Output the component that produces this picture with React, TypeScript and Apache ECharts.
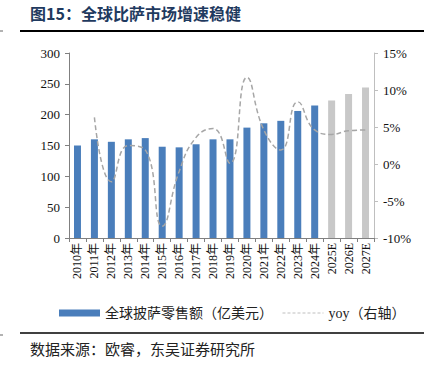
import React, { useEffect, useRef } from "react";
import * as echarts from "echarts";

const categories = ["2010年","2011年","2012年","2013年","2014年","2015年","2016年","2017年","2018年","2019年","2020年","2021年","2022年","2023年","2024年","2025E","2026E","2027E"];
const salesValues = [150,160,156,160,162,148,147,152,160,160,179,186,190,206,215,223,233.5,244];
const forecastFlags = [0,0,0,0,0,0,0,0,0,0,0,0,0,0,0,1,1,1];
const yoyValues: (number | null)[] = [null,6.3,-2.4,2.5,1.9,-8.4,-1.0,3.6,4.8,0.1,11.7,4.6,1.9,8.4,4.6,4.0,4.5,4.6];
const leftTicks = { min: 0, max: 300, interval: 50 };
const rightTicks = { min: -10, max: 15, interval: 5 };

const SERIF = "'Liberation Serif', 'Noto Sans CJK SC', serif";
const CJK = "'Noto Sans CJK SC', 'Liberation Serif', serif";

export default function App() {
  const ref = useRef<HTMLDivElement>(null);
  useEffect(() => {
    document.body.style.margin = "0";
    const chart = echarts.init(ref.current!, null, { renderer: "svg" });
    chart.setOption({
      animation: false,
      backgroundColor: "#ffffff",
      grid: { left: 69, right: 50, top: 53, bottom: 127 },
      legend: {
        left: 54,
        top: 301,
        itemWidth: 41,
        itemHeight: 7,
        itemGap: 9,
        textStyle: { fontFamily: SERIF, fontSize: 14, color: "#222" },
        data: [
          { name: "全球披萨零售额（亿美元）", icon: "rect" },
          { name: "yoy（右轴）", itemStyle: { opacity: 0 }, lineStyle: { color: "#bfbfbf", width: 1, type: [3, 2] } },
        ],
      },
      xAxis: {
        type: "category",
        data: categories,
        axisLine: { lineStyle: { color: "#808080", width: 1 } },
        axisTick: { show: true, interval: 0, length: 4, lineStyle: { color: "#808080" } },
        axisLabel: {
          interval: 0,
          rotate: 90,
          margin: 5,
          fontFamily: SERIF,
          fontSize: 12,
          color: "#111",
        },
      },
      yAxis: [
        {
          type: "value",
          min: leftTicks.min,
          max: leftTicks.max,
          interval: leftTicks.interval,
          splitLine: { show: false },
          axisLine: { show: true, lineStyle: { color: "#808080" } },
          axisTick: { show: true, length: 4, lineStyle: { color: "#808080" } },
          axisLabel: { fontFamily: SERIF, fontSize: 13, color: "#111", margin: 9 },
        },
        {
          type: "value",
          min: rightTicks.min,
          max: rightTicks.max,
          interval: rightTicks.interval,
          position: "right",
          splitLine: { show: false },
          axisLine: { show: true, lineStyle: { color: "#bfbfbf" } },
          axisTick: { show: true, length: 4, lineStyle: { color: "#bfbfbf" } },
          axisLabel: { fontFamily: SERIF, fontSize: 13, color: "#111", margin: 9, formatter: (v: number) => `${v}%` },
        },
      ],
      series: [
        {
          name: "全球披萨零售额（亿美元）",
          type: "bar",
          barWidth: 7,
          itemStyle: { color: "#4a7ebb" },
          data: salesValues.map((v, i) => ({
            value: v,
            itemStyle: { color: forecastFlags[i] ? "#c8c8c8" : "#4a7ebb" },
          })),
        },
        {
          name: "yoy（右轴）",
          type: "line",
          yAxisIndex: 1,
          smooth: 0.5,
          symbol: "none",
          showSymbol: false,
          itemStyle: { color: "#a6a6a6" },
          lineStyle: { color: "#a6a6a6", width: 1.5, type: [5, 3] },
          data: yoyValues,
        },
      ],
      graphic: [
        {
          type: "text",
          left: 30,
          top: 5,
          style: { text: "图15：全球比萨市场增速稳健", fontFamily: CJK, fontSize: 16, fontWeight: "bold", fill: "#1f3a5f" },
        },
        { type: "line", shape: { x1: 20, y1: 31, x2: 424, y2: 31 }, style: { stroke: "#000", lineWidth: 2 } },
        { type: "line", shape: { x1: 0, y1: 31, x2: 3, y2: 31 }, style: { stroke: "#666", lineWidth: 1 } },
        { type: "line", shape: { x1: 20, y1: 333, x2: 424, y2: 333 }, style: { stroke: "#000", lineWidth: 1.5 } },
        { type: "line", shape: { x1: 0, y1: 335, x2: 3, y2: 335 }, style: { stroke: "#666", lineWidth: 1 } },
        {
          type: "text",
          left: 30,
          top: 341,
          style: { text: "数据来源：欧睿，东吴证券研究所", fontFamily: CJK, fontSize: 15, fill: "#222" },
        },
      ],
    });
    return () => chart.dispose();
  }, []);
  return <div ref={ref} style={{ width: 424, height: 365 }} />;
}
